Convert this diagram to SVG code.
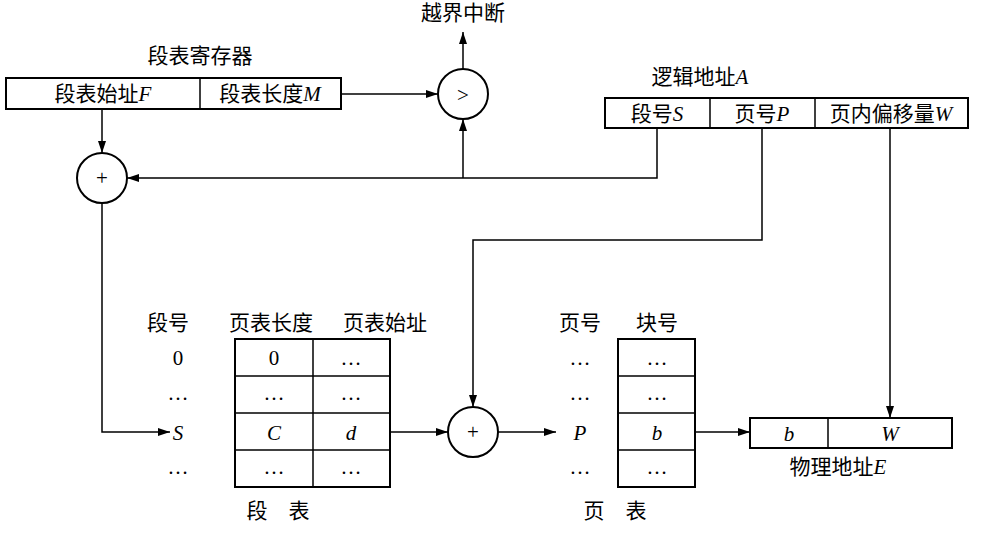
<svg xmlns="http://www.w3.org/2000/svg" width="996" height="535" viewBox="0 0 996 535">
<style>
.b{fill:none;stroke:#000;stroke-width:2}
.l{fill:none;stroke:#000;stroke-width:1.5}
text{font-family:"Liberation Serif","Noto Sans CJK SC",serif;font-size:21px;fill:#000;text-anchor:middle}
.i{font-style:italic}
</style>
<defs><marker id="a" viewBox="0 0 12 8" refX="12" refY="4" markerWidth="12" markerHeight="8" orient="auto" markerUnits="userSpaceOnUse"><path d="M0,0L12,4L0,8z" fill="#000"/></marker></defs>
<g id="reg"><text x="200" y="63">段表寄存器</text><rect class="b" x="6" y="78" width="335" height="31"/><line class="l" x1="200" y1="78" x2="200" y2="109"/><text x="103" y="101">段表始址<tspan class="i">F</tspan></text><text x="270" y="101">段表长度<tspan class="i">M</tspan></text></g>
<g id="cmp"><circle class="b" cx="463" cy="94" r="25"/><text x="463" y="102">&gt;</text><text x="463" y="20">越界中断</text></g>
<g id="add1"><circle class="b" cx="102" cy="178" r="25"/><text x="102" y="185" font-size="14">+</text></g>
<g id="la"><text x="700" y="84">逻辑地址<tspan class="i">A</tspan></text><rect class="b" x="605" y="98" width="363" height="30"/><line class="l" x1="710" y1="98" x2="710" y2="128"/><line class="l" x1="815" y1="98" x2="815" y2="128"/><text x="657" y="121">段号<tspan class="i">S</tspan></text><text x="762" y="121">页号<tspan class="i">P</tspan></text><text x="891" y="121">页内偏移量<tspan class="i">W</tspan></text></g>
<g id="st"><text x="168" y="330">段号</text><text x="271" y="330">页表长度</text><text x="385" y="330">页表始址</text>
<rect class="b" x="235" y="339" width="155" height="148"/><g class="l"><line x1="313" y1="339" x2="313" y2="487"/><line x1="235" y1="376" x2="390" y2="376"/><line x1="235" y1="413" x2="390" y2="413"/><line x1="235" y1="450" x2="390" y2="450"/></g>
<text x="178" y="365">0</text><text x="178" y="400">…</text><text x="178" y="440" class="i">S</text><text x="178" y="474">…</text>
<text x="274" y="365">0</text><text x="274" y="400">…</text><text x="274" y="440" class="i">C</text><text x="274" y="474">…</text>
<text x="351" y="365">…</text><text x="351" y="400">…</text><text x="351" y="440" class="i">d</text><text x="351" y="474">…</text>
<text x="278" y="518">段　表</text></g>
<g id="add2"><circle class="b" cx="473" cy="432" r="25"/><text x="473" y="439" font-size="16">+</text></g>
<g id="pt"><text x="580" y="330">页号</text><text x="657" y="330">块号</text>
<rect class="b" x="618" y="339" width="77" height="148"/><g class="l"><line x1="618" y1="376" x2="695" y2="376"/><line x1="618" y1="413" x2="695" y2="413"/><line x1="618" y1="450" x2="695" y2="450"/></g>
<text x="580" y="365">…</text><text x="580" y="400">…</text><text x="580" y="440" class="i">P</text><text x="580" y="474">…</text>
<text x="657" y="365">…</text><text x="657" y="400">…</text><text x="657" y="440" class="i">b</text><text x="657" y="474">…</text>
<text x="615" y="518">页　表</text></g>
<g id="pa"><rect class="b" x="750" y="418" width="202" height="30"/><line class="l" x1="828" y1="418" x2="828" y2="448"/><text x="789" y="441" class="i">b</text><text x="890" y="441" class="i">W</text><text x="838" y="474">物理地址<tspan class="i">E</tspan></text></g>
<g id="conn" class="l" marker-end="url(#a)">
<line x1="341" y1="94" x2="438" y2="94"/>
<line x1="463" y1="69" x2="463" y2="32"/>
<line x1="102" y1="109" x2="102" y2="153"/>
<polyline points="657,128 657,178 127,178"/>
<line x1="463" y1="178" x2="463" y2="119"/>
<polyline points="762,128 762,240 473,240 473,407"/>
<line x1="890" y1="128" x2="890" y2="418"/>
<polyline points="102,203 102,432 170,432"/>
<line x1="390" y1="432" x2="448" y2="432"/>
<line x1="498" y1="432" x2="556" y2="432"/>
<line x1="695" y1="432" x2="750" y2="432"/>
</g>
</svg>
